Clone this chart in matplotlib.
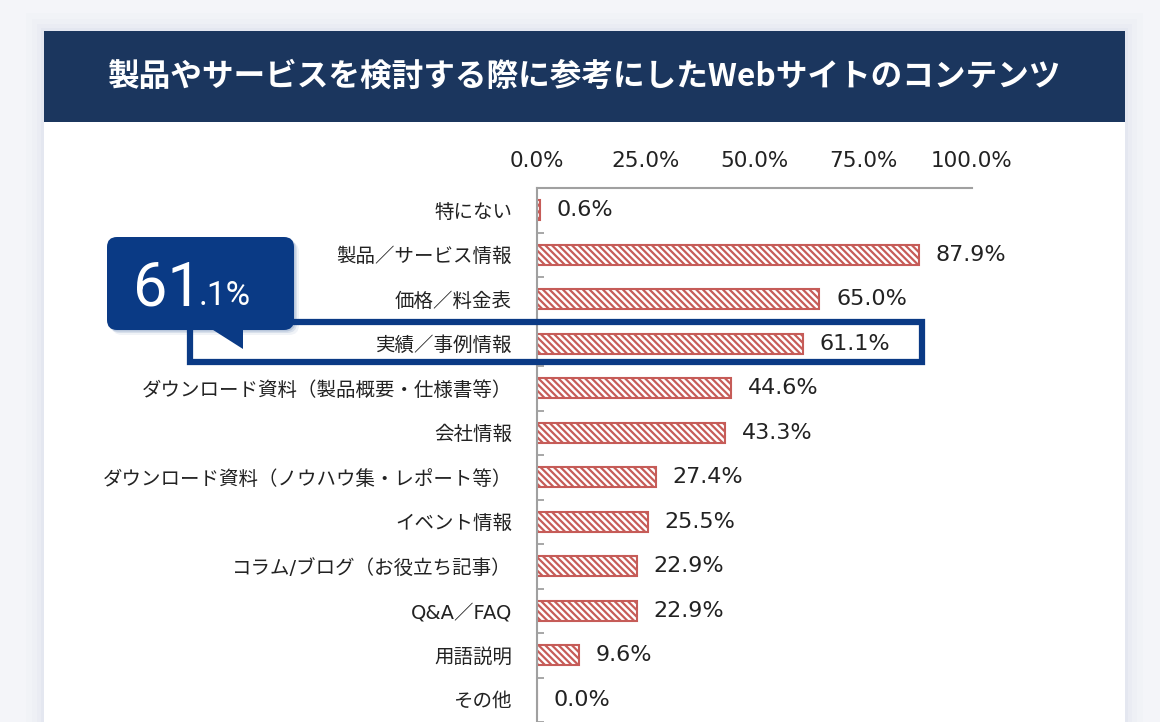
import numpy as np
import matplotlib.pyplot as plt
from matplotlib.patches import Rectangle, FancyBboxPatch, Polygon

plt.rcParams['font.family'] = ['DejaVu Sans', 'Noto Sans CJK JP']

TITLE = '製品やサービスを検討する際に参考にしたWebサイトのコンテンツ'
categories = [
    '特にない',
    '製品／サービス情報',
    '価格／料金表',
    '実績／事例情報',
    'ダウンロード資料（製品概要・仕様書等）',
    '会社情報',
    'ダウンロード資料（ノウハウ集・レポート等）',
    'イベント情報',
    'コラム/ブログ（お役立ち記事）',
    'Q&A／FAQ',
    '用語説明',
    'その他',
]
values = [0.6, 87.9, 65.0, 61.1, 44.6, 43.3, 27.4, 25.5, 22.9, 22.9, 9.6, 0.0]
x_ticks = [0, 25, 50, 75, 100]
highlight = '実績／事例情報'

W, H = 1160, 722
BG = '#f4f5f9'
NAVY = '#1b365e'
BLUE = '#0a3a85'
BAR_RED = '#c65c58'
TEXT = '#222222'

plt.rcParams['hatch.linewidth'] = 1.6

fig = plt.figure(figsize=(W / 100, H / 100), dpi=100, facecolor=BG)

# background layer in pixel coordinates: card, shadow, header
bg = fig.add_axes([0, 0, 1, 1], zorder=0)
bg.set_xlim(0, W)
bg.set_ylim(H, 0)
bg.axis('off')
for m, a in [(18, 0.08), (12, 0.12), (7, 0.18), (3, 0.3)]:
    bg.add_patch(Rectangle((44 - m, 31 - m), 1081 + 2 * m, 800, color='#d9deeb',
                           alpha=a, lw=0))
bg.add_patch(Rectangle((44, 31), 1081, 800, color='white', lw=0))
bg.add_patch(Rectangle((44, 31), 1081, 91, color=NAVY, lw=0))
bg.text(584.5, 77, TITLE, color='white', fontsize=22.8, fontweight='bold',
        ha='center', va='center', family=['Noto Sans CJK JP'])

# main bar chart
ax = fig.add_axes([537 / W, 0, 434.6 / W, (H - 188) / H], zorder=1)
ax.set_facecolor('none')
y = np.arange(len(categories))
ax.barh(y, values, height=0.45, color='white', edgecolor=BAR_RED,
        hatch='\\\\\\\\\\', linewidth=1.5)
for yi, v in zip(y, values):
    ax.annotate(f'{v:.1f}%', (v, yi), xytext=(12, 0), textcoords='offset points',
                ha='left', va='center', fontsize=16, color=TEXT)

ax.set_xlim(0, 100)
ax.set_ylim(len(categories) - 0.5, -0.5)
ax.xaxis.tick_top()
ax.set_xticks(x_ticks)
ax.set_xticklabels([f'{t:.1f}%' for t in x_ticks])
ax.tick_params(axis='x', length=0, pad=12, labelsize=15.5, labelcolor=TEXT)
ax.set_yticks(y)
ax.set_yticklabels(categories)
ax.tick_params(axis='y', which='major', length=0, pad=18, labelsize=14,
               labelcolor=TEXT)
ax.set_yticks(np.arange(-0.5, len(categories), 1), minor=True)
ax.tick_params(axis='y', which='minor', direction='in', length=5, width=1.3,
               color='#a0a0a0')
for s in ['right', 'bottom']:
    ax.spines[s].set_visible(False)
for s in ['top', 'left']:
    ax.spines[s].set_color('#a0a0a0')
    ax.spines[s].set_linewidth(1.5)

# highlight frame around one row
hi = categories.index(highlight)
ax.add_patch(Rectangle((-79.8, hi - 0.49), 168.4, 0.9, fill=False,
                       edgecolor=BLUE, lw=4.5, clip_on=False, zorder=5))

# callout bubble (pixel coordinates)
fg = fig.add_axes([0, 0, 1, 1], zorder=2)
fg.set_xlim(0, W)
fg.set_ylim(H, 0)
fg.axis('off')
for d, a in [(5, 0.06), (3, 0.10), (1.5, 0.15)]:
    fg.add_patch(FancyBboxPatch((107 + d, 237 + d), 187, 93,
                                boxstyle='round,pad=0,rounding_size=10',
                                color=BLUE, alpha=a, lw=0))
fg.add_patch(FancyBboxPatch((107, 237), 187, 93,
                            boxstyle='round,pad=0,rounding_size=10',
                            color=BLUE, lw=0))
fg.add_patch(Polygon([(210, 328), (243, 328), (243, 349)], closed=True,
                     color=BLUE, lw=0))
val = values[hi]
whole, frac = f'{val:.1f}'.split('.')
fg.text(133, 305, whole, color='white', fontsize=44, family='Roboto',
        ha='left', va='baseline')
fg.text(199, 305, f'.{frac}%', color='white', fontsize=24, family='Roboto',
        ha='left', va='baseline')

fig.savefig('out.png', dpi=100, facecolor=BG)
